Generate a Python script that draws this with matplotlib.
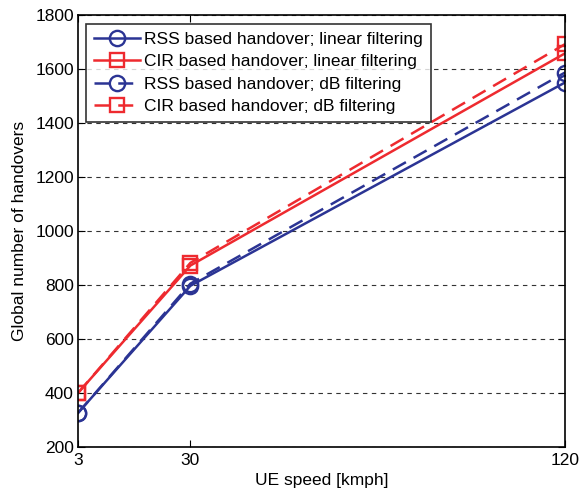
import matplotlib
matplotlib.use("Agg")
import matplotlib.pyplot as plt

speeds = [3, 30, 120]
rss_linear = [326, 797, 1550]
cir_linear = [400, 872, 1658]
rss_db = [326, 805, 1587]
cir_db = [400, 882, 1692]
labels = ["RSS based handover; linear filtering",
          "CIR based handover; linear filtering",
          "RSS based handover; dB filtering",
          "CIR based handover; dB filtering"]
yticks = [200, 400, 600, 800, 1000, 1200, 1400, 1600, 1800]

blue = "#2B3494"
red = "#EE2A2F"

plt.rcParams['font.family'] = ['Liberation Sans', 'DejaVu Sans']

fig = plt.figure(figsize=(5.81, 4.93), dpi=100)
L, R, T, B = 78, 565, 15, 447
ax = fig.add_axes([L/581, (493-B)/493, (R-L)/581, (B-T)/493])

kw = dict(markerfacecolor='none', markeredgewidth=1.7, linewidth=1.8)
ax.plot(speeds, rss_linear, '-', color=blue, marker='o', markersize=11, label=labels[0], **kw)
ax.plot(speeds, cir_linear, '-', color=red, marker='s', markersize=9.5, label=labels[1], **kw)
ax.plot(speeds, rss_db, '--', color=blue, marker='o', markersize=11, label=labels[2], dashes=(6, 3.5), **kw)
ax.plot(speeds, cir_db, '--', color=red, marker='s', markersize=9.5, label=labels[3], dashes=(6, 3.5), **kw)

ax.set_xlim(3, 120)
ax.set_ylim(200, 1800)
ax.set_xticks(speeds)
ax.set_yticks(yticks)
ax.yaxis.grid(True, linestyle=(0, (4, 4)), color='#333333', linewidth=0.8)
ax.tick_params(direction='in', top=True, right=True, labelsize=12.5, length=5)
ax.tick_params(axis='x', pad=4)
ax.tick_params(axis='y', pad=3)
for s in ax.spines.values():
    s.set_linewidth(1.2)
ax.set_xlabel("UE speed [kmph]", fontsize=12.5, labelpad=4)
ax.set_ylabel("Global number of handovers", fontsize=12.5, labelpad=6)

leg = ax.legend(loc='upper left', bbox_to_anchor=(8/487, 1 - 9/432), fontsize=12.5,
                frameon=True, fancybox=False, edgecolor='black', handlelength=2.65,
                handletextpad=0.25, borderpad=0.45, labelspacing=0.42, borderaxespad=0)
leg.get_frame().set_linewidth(1.2)

fig.savefig("out.png", dpi=100)
